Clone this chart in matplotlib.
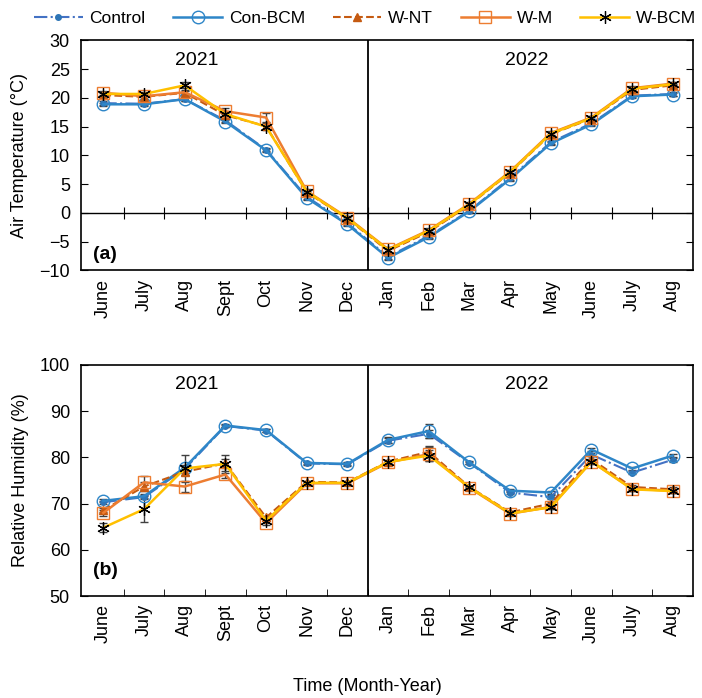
import numpy as np
import matplotlib
matplotlib.use("Agg")
import matplotlib.pyplot as plt

plt.rcParams['font.family'] = ['Liberation Sans', 'DejaVu Sans']
plt.rcParams['font.size'] = 12

months = ['June', 'July', 'Aug', 'Sept', 'Oct', 'Nov', 'Dec',
          'Jan', 'Feb', 'Mar', 'Apr', 'May', 'June', 'July', 'Aug']
treatments = ['Control', 'Con-BCM', 'W-NT', 'W-M', 'W-BCM']

# Air temperature (°C)
temp_control = [19.1, 19.0, 19.8, 16.1, 11.0, 2.8, -1.8, -7.6, -4.0, 0.4, 6.1, 12.3, 15.6, 20.4, 20.7]
temp_con_bcm = [18.9, 18.9, 19.8, 15.9, 10.9, 2.6, -2.0, -7.8, -4.2, 0.3, 5.9, 12.1, 15.4, 20.3, 20.6]
temp_w_nt = [20.5, 20.2, 20.9, 17.0, 15.1, 3.6, -1.0, -6.6, -3.3, 1.4, 7.0, 13.7, 16.4, 21.4, 22.2]
temp_w_m = [20.9, 20.3, 21.0, 17.7, 16.6, 3.8, -0.8, -6.3, -3.0, 1.6, 7.2, 13.9, 16.6, 21.7, 22.5]
temp_w_bcm = [20.7, 20.7, 22.2, 17.2, 15.0, 3.7, -0.9, -6.4, -3.1, 1.5, 7.1, 13.8, 16.5, 21.6, 22.4]

temp_err_control = [0.3, 0.3, 0.3, 0.3, 0.3, 0.3, 0.3, 0.4, 0.4, 0.3, 0.3, 0.3, 0.3, 0.3, 0.3]
temp_err_con_bcm = [0.3, 0.3, 0.3, 0.3, 0.3, 0.3, 0.3, 0.4, 0.4, 0.3, 0.3, 0.3, 0.3, 0.3, 0.3]
temp_err_w_nt = [0.4, 0.4, 0.4, 0.4, 0.5, 0.3, 0.3, 0.4, 0.4, 0.3, 0.3, 0.3, 0.3, 0.3, 0.3]
temp_err_w_m = [0.4, 0.4, 0.4, 0.5, 0.8, 0.3, 0.3, 0.4, 0.4, 0.3, 0.3, 0.3, 0.3, 0.3, 0.3]
temp_err_w_bcm = [0.4, 0.4, 0.5, 0.4, 0.5, 0.3, 0.3, 0.4, 0.4, 0.3, 0.3, 0.3, 0.3, 0.3, 0.3]

# Relative humidity (%)
rh_control = [70.3, 71.4, 77.5, 86.8, 85.8, 78.7, 78.5, 83.6, 85.1, 78.8, 72.4, 71.4, 80.6, 76.7, 79.5]
rh_con_bcm = [70.6, 71.6, 77.8, 86.9, 85.9, 78.8, 78.6, 83.8, 85.7, 78.9, 72.8, 72.4, 81.7, 77.6, 80.4]
rh_w_nt = [68.6, 73.7, 76.9, 78.7, 67.0, 74.7, 74.6, 79.1, 81.2, 73.6, 68.1, 70.0, 79.6, 73.6, 73.1]
rh_w_m = [68.0, 74.6, 73.7, 76.3, 65.8, 74.4, 74.4, 78.9, 80.7, 73.4, 67.8, 69.3, 79.1, 73.2, 72.8]
rh_w_bcm = [64.8, 68.8, 77.6, 78.6, 66.3, 74.5, 74.5, 79.0, 80.4, 73.5, 67.9, 69.2, 79.1, 73.1, 72.7]

rh_err_control = [0.3, 0.4, 0.5, 0.3, 0.3, 0.3, 0.3, 0.5, 0.8, 0.3, 0.3, 0.4, 0.4, 0.4, 0.4]
rh_err_con_bcm = [0.3, 0.4, 0.5, 0.3, 0.3, 0.3, 0.3, 0.6, 1.5, 0.3, 0.3, 0.4, 0.4, 0.4, 0.4]
rh_err_w_nt = [0.5, 1.0, 0.8, 1.0, 0.4, 0.3, 0.3, 0.4, 1.2, 0.3, 0.3, 0.4, 0.6, 0.4, 0.4]
rh_err_w_m = [0.7, 1.4, 1.2, 0.8, 0.4, 0.3, 0.3, 0.4, 1.5, 0.3, 0.3, 0.4, 0.6, 0.4, 0.4]
rh_err_w_bcm = [0.9, 2.8, 3.0, 1.9, 0.5, 0.3, 0.3, 0.4, 1.2, 0.3, 0.4, 0.4, 0.5, 0.4, 0.4]

styles = [
    dict(color='#4472C4', linestyle='-.', marker='o', markersize=4,
         markerfacecolor='#2E75B6', markeredgecolor='#2E75B6', linewidth=1.5),
    dict(color='#2E86C8', linestyle='-', marker='o', markersize=9,
         markerfacecolor='none', markeredgecolor='#2E86C8', linewidth=1.8),
    dict(color='#C55A11', linestyle='--', marker='^', markersize=6,
         markerfacecolor='#C55A11', markeredgecolor='#C55A11', linewidth=1.5),
    dict(color='#ED7D31', linestyle='-', marker='s', markersize=8,
         markerfacecolor='none', markeredgecolor='#ED7D31', linewidth=1.8),
    dict(color='#FFC000', linestyle='-', marker=(6, 2, 0), markersize=9,
         markerfacecolor='black', markeredgecolor='black', markeredgewidth=0.9,
         linewidth=1.8),
]

x = np.arange(len(months))

fig = plt.figure(figsize=(7.02, 6.98), dpi=100)
ax1 = fig.add_axes([0.1154, 0.6125, 0.872, 0.3295])
ax2 = fig.add_axes([0.1154, 0.1461, 0.872, 0.331])


def draw_panel(ax, series, errors):
    handles = []
    for vals, errs, style, name in zip(series, errors, styles, treatments):
        ax.errorbar(x, vals, yerr=errs, fmt='none', ecolor='#404040',
                    elinewidth=1.0, capsize=3, zorder=2)
        line, = ax.plot(x, vals, label=name, zorder=3, **style)
        handles.append(line)
    ax.axvline(6.5, color='black', linewidth=1.3, zorder=4)
    ax.set_xlim(-0.55, 14.5)
    ax.set_xticks(x)
    ax.set_xticklabels(months, rotation=90)
    ax.tick_params(axis='x', which='major', length=0, pad=6, labelsize=13)
    ax.tick_params(axis='y', which='major', direction='in', length=5,
                   left=True, right=True, labelleft=True, pad=8, labelsize=13)
    for spine in ax.spines.values():
        spine.set_linewidth(1.2)
    return handles


handles = draw_panel(ax1, [temp_control, temp_con_bcm, temp_w_nt, temp_w_m, temp_w_bcm],
                     [temp_err_control, temp_err_con_bcm, temp_err_w_nt, temp_err_w_m, temp_err_w_bcm])
ax1.set_ylim(-10, 30)
ax1.set_yticks(np.arange(-10, 31, 5))
ax1.axhline(0, color='black', linewidth=1.0, zorder=1)
# month separators on the zero line
sec = ax1.secondary_xaxis(0.25)
sec.set_xticks(x[:-1] + 0.5)
sec.tick_params(axis='x', direction='inout', length=8, labelbottom=False, labeltop=False)
sec.spines['bottom'].set_visible(False)
ax1.set_ylabel('Air Temperature (°C)', labelpad=8, fontsize=13)
ax1.text(2.3, 0.915, '2021', transform=ax1.get_xaxis_transform(), ha='center', va='center', fontsize=14)
ax1.text(10.4, 0.915, '2022', transform=ax1.get_xaxis_transform(), ha='center', va='center', fontsize=14)
ax1.text(0.02, 0.07, '(a)', transform=ax1.transAxes, fontweight='bold', fontsize=14, va='center')

draw_panel(ax2, [rh_control, rh_con_bcm, rh_w_nt, rh_w_m, rh_w_bcm],
           [rh_err_control, rh_err_con_bcm, rh_err_w_nt, rh_err_w_m, rh_err_w_bcm])
ax2.set_ylim(50, 100)
ax2.set_yticks(np.arange(50, 101, 10))
ax2.set_xticks(x[:-1] + 0.5, minor=True)
ax2.tick_params(axis='x', which='minor', direction='in', length=5)
ax2.set_ylabel('Relative Humidity (%)', labelpad=8, fontsize=13)
ax2.text(2.3, 0.915, '2021', transform=ax2.get_xaxis_transform(), ha='center', va='center', fontsize=14)
ax2.text(10.4, 0.915, '2022', transform=ax2.get_xaxis_transform(), ha='center', va='center', fontsize=14)
ax2.text(0.02, 0.11, '(b)', transform=ax2.transAxes, fontweight='bold', fontsize=14, va='center')

fig.text(0.523, 0.017, 'Time (Month-Year)', ha='center', va='center', fontsize=13)
fig.legend(handles, treatments, loc='center', bbox_to_anchor=(0.52, 0.974), ncol=5,
           frameon=False, handlelength=2.8, columnspacing=1.6, handletextpad=0.4, fontsize=12.5,
           borderpad=0.2, borderaxespad=0.2)

fig.savefig('out.png', dpi=100)
